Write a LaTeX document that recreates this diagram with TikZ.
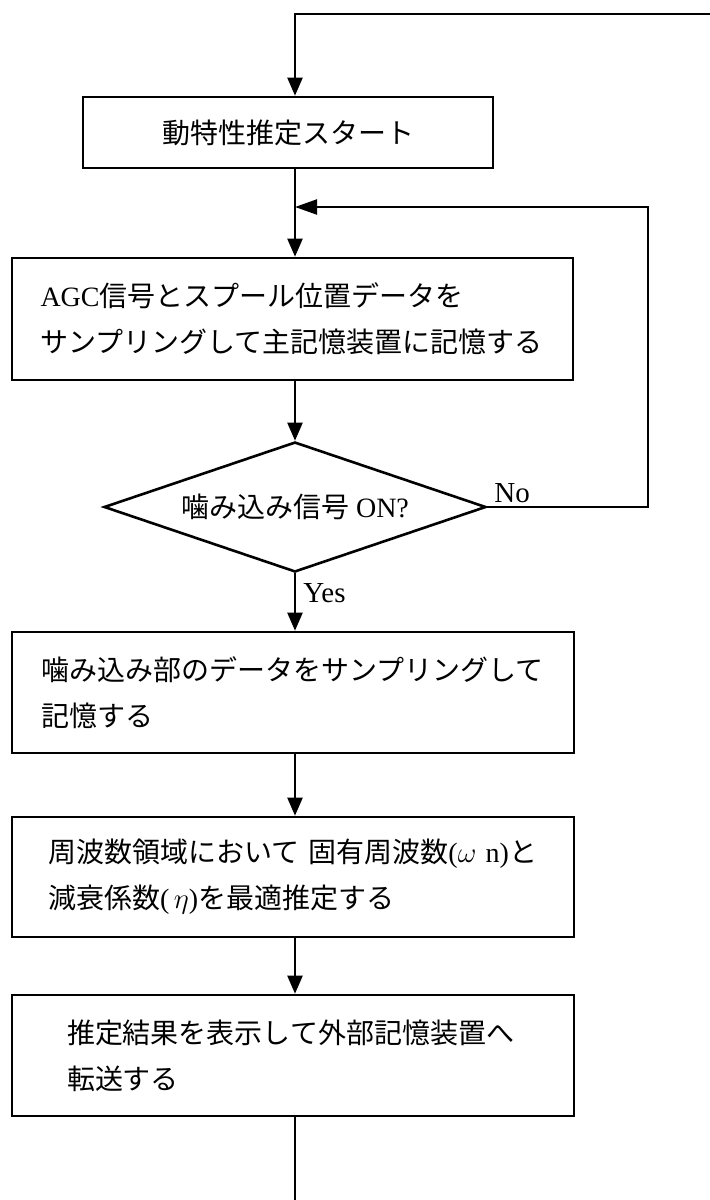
\documentclass[tikz,border=0pt]{standalone}
\usepackage{fontspec}
\setmainfont{Liberation Serif}
\newfontfamily\jp{Noto Sans CJK JP}
\usetikzlibrary{arrows.meta,shapes.geometric}
\begin{document}
\begin{tikzpicture}[x=0.5pt,y=-0.5pt,
  box/.style={draw, line width=1.3pt, inner sep=0pt, font=\fontsize{14pt}{23pt}\selectfont},
  link/.style={line width=1.1pt},
  arr/.style={link, -{Triangle[length=9pt,width=7.5pt]}},
  fbarr/.style={link, -{Triangle[length=11pt,width=7.5pt]}},
  lbl/.style={font=\fontsize{14.5pt}{16pt}\selectfont, inner sep=0pt}]
\useasboundingbox (0,0) rectangle (710,1200);
\fill[white] (0,0) rectangle (710,1200);
\coordinate (axis) at (295,0);
\coordinate (topR) at (710,14);
\coordinate (fbR) at (648,207);
\coordinate (bot) at (295,1200);

\node[box, minimum width=205pt, minimum height=35.5pt] (b1) at (288,132.5) {\jp 動特性推定スタート};
\node[box, minimum width=280.5pt, minimum height=61pt, text width=252pt, align=left] (b2) at (292.5,319)
  {AGC{\jp 信号とスプール位置データを}\\{\jp サンプリングして主記憶装置に記憶する}};
\node[diamond, draw, line width=1.3pt, aspect=2.94, minimum width=191pt, minimum height=65pt, inner sep=0pt,
  font=\fontsize{14pt}{16pt}\selectfont] (dec) at (295,507) {{\jp 噛み込み信号}~ON?};
\node[box, minimum width=281pt, minimum height=60.5pt, text width=252pt, align=left] (b3) at (293,692.5)
  {{\jp 噛み込み部のデータをサンプリングして}\\{\jp 記憶する}};
\node[box, minimum width=281pt, minimum height=60pt, text width=245pt, align=left] (b4) at (293,877)
  {{\jp 周波数領域において}~{\jp 固有周波数}($\omega$~n){\jp と}\\{\jp 減衰係数}(\,$\eta$){\jp を最適推定する}};
\node[box, minimum width=281pt, minimum height=60.5pt, text width=226pt, align=left] (b5) at (293,1055.5)
  {{\jp 推定結果を表示して外部記憶装置へ}\\{\jp 転送する}};

\node[lbl, anchor=base west] (no) at (494,502) {No};
\node[lbl, anchor=base west] (yes) at (303,602) {Yes};

\draw[arr] (topR) -- (topR -| axis) -- (b1.north -| axis);
\draw[arr] (b1.south -| axis) -- (b2.north -| axis);
\draw[fbarr] (dec.east) -- (dec.east -| fbR) -- (fbR) -- (fbR -| axis);
\draw[arr] (b2.south -| axis) -- (dec.north);
\draw[arr] (dec.south) -- (b3.north -| axis);
\draw[arr] (b3.south -| axis) -- (b4.north -| axis);
\draw[arr] (b4.south -| axis) -- (b5.north -| axis);
\draw[link] (b5.south -| axis) -- (bot);
\end{tikzpicture}
\end{document}
